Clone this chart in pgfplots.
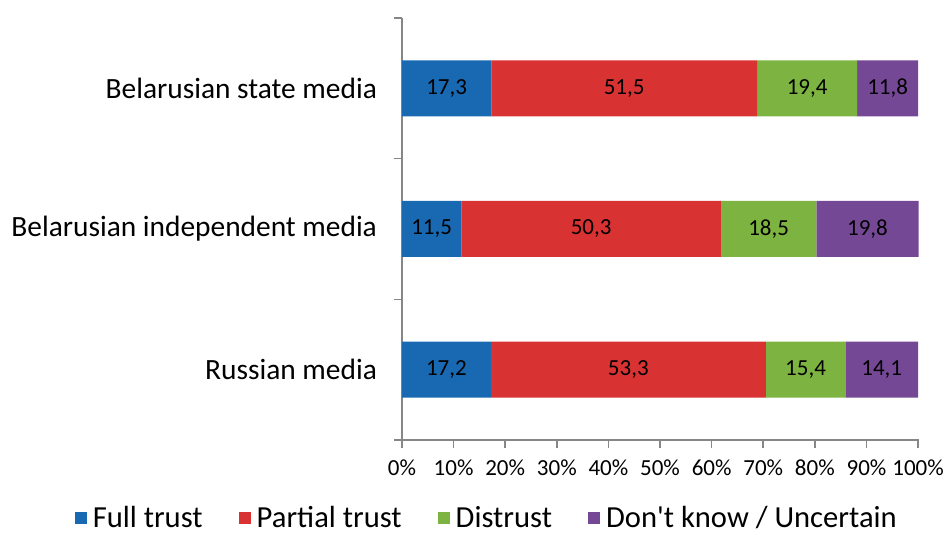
\documentclass[border=0pt]{standalone}
\usepackage{fontspec}
\setmainfont{Carlito}
\usepackage{pgfplots}
\usepackage{pgfplotstable}
\pgfplotsset{compat=1.18}

\definecolor{cfull}{HTML}{1868B2}
\definecolor{cpart}{HTML}{D93232}
\definecolor{cdis}{HTML}{7DB341}
\definecolor{cdk}{HTML}{754896}
\definecolor{caxis}{HTML}{868686}

% 0 = Russian, 1 = independent, 2 = state
\pgfplotstableread{
y full partial dis dk
0 17.2 53.3 15.4 14.1
1 11.5 50.3 18.5 19.8
2 17.3 51.5 19.4 11.8
}\trust

\begin{document}
\begin{tikzpicture}
\useasboundingbox (-201pt,-47pt) rectangle (271.5pt,220pt);
\begin{axis}[
    at={(0,0)}, anchor=south west,
    scale only axis,
    width=258.3pt, height=211pt,
    xbar stacked,
    bar width=28pt,
    xmin=0, xmax=100.1,
    ymin=-0.5, ymax=2.5,
    axis lines=left,
    axis line style={-, draw=caxis, line width=0.8pt},
    tick style={draw=caxis, line width=0.8pt},
    tick align=outside,
    major tick length=4pt,
    xtick={0,10,...,100},
    xticklabel={\pgfmathprintnumber{\tick}\%},
    xticklabel style={font=\fontsize{11.5}{13}\selectfont, yshift=-2.5pt},
    ytick={-0.5,0.5,1.5,2.5},
    yticklabels={},
    extra y ticks={0,1,2},
    extra y tick labels={Russian media, Belarusian independent media, Belarusian state media},
    extra y tick style={major tick length=0pt,
        yticklabel style={font=\fontsize{14.7}{17}\selectfont, xshift=-9pt}},
    /pgf/number format/assume math mode=true,
    point meta=x,
    nodes near coords={\pgfmathprintnumber[fixed,precision=1,fixed zerofill,use comma]{\rawx}},
    every node near coord/.append style={font=\fontsize{11.5}{13}\selectfont, black,
        anchor=center},
    legend style={at={(0.166,-0.186)}, anchor=center, legend columns=4, draw=none,
        font=\fontsize{15.3}{17}\selectfont,
        /tikz/every even column/.append style={column sep=16pt}},
    legend image code/.code={\fill[#1] (0pt,-3pt) rectangle (6pt,3pt);},
]
\addplot[fill=cfull, draw=none, visualization depends on={\thisrow{full} \as \rawx}]
    table[x=full, y=y]{\trust};
\addplot[fill=cpart, draw=none, visualization depends on={\thisrow{partial} \as \rawx}]
    table[x=partial, y=y]{\trust};
\addplot[fill=cdis, draw=none, visualization depends on={\thisrow{dis} \as \rawx}]
    table[x=dis, y=y]{\trust};
\addplot[fill=cdk, draw=none, visualization depends on={\thisrow{dk} \as \rawx}]
    table[x=dk, y=y]{\trust};
\legend{\hspace{1pt}Full trust, \hspace{1pt}Partial trust, \hspace{1pt}Distrust, \hspace{1pt}Don\textquotesingle t know / Uncertain}
\end{axis}
\end{tikzpicture}
\end{document}
